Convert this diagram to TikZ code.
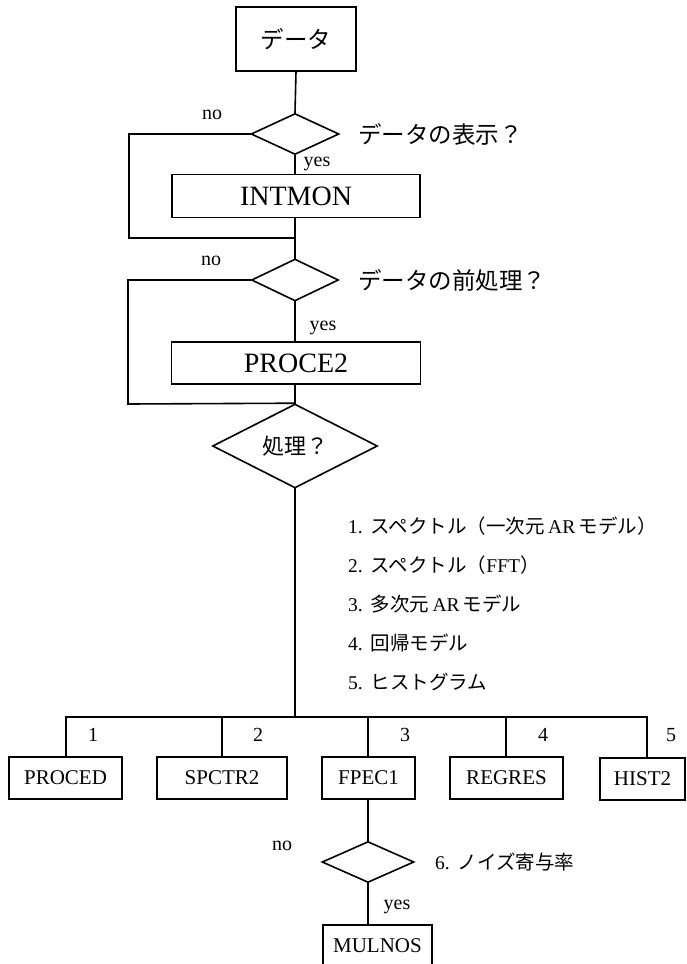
\documentclass[tikz,border=0pt]{standalone}
\usepackage{fontspec}
\setmainfont{Liberation Serif}
\newfontfamily\jp{Noto Sans CJK JP}
\usetikzlibrary{shapes.geometric}
\tikzset{
  ln/.style={line width=1.6pt, line cap=rect},
  boxn/.style={draw, line width=1.6pt, rectangle, inner sep=0pt},
  dia/.style={draw, line width=1.6pt, diamond, inner sep=0pt},
  big/.style={font=\fontsize{28}{32}\selectfont},
  jpbig/.style={font=\jp\fontsize{23.5}{28}\selectfont},
  med/.style={font=\fontsize{21}{25}\selectfont},
  lst/.style={font=\fontsize{19.5}{23}\selectfont, anchor=west, inner sep=0pt},
  sml/.style={font=\fontsize{20}{24}\selectfont, inner sep=0pt},
}
\begin{document}
\begin{tikzpicture}[x=1pt,y=-1pt]
\useasboundingbox (0,0) rectangle (686,964);
\fill[white] (0,0) rectangle (686,964);
% top
\node[boxn, jpbig, minimum width=120pt, minimum height=64pt] (data) at (296,39) {データ};
\node[dia, minimum width=88pt, minimum height=41pt] (d1) at (295,134) {};
\node[jpbig, anchor=west, inner sep=0pt] (q1) at (358,134) {データの表示？};
\node[sml] (no1) at (212,115) {no};
\node[sml] (yes1) at (317,164) {yes};
\node[boxn, big, minimum width=248pt, minimum height=43pt] (intmon) at (296,196) {INTMON};
\coordinate (l1) at (129,238);
\coordinate (j1) at (295,238);
\draw[ln] (data.south) -- (d1.north);
\draw[ln] (d1.south) -- (d1.south |- intmon.north);
\draw[ln] (d1.west) -| (l1) -- (j1);
% second
\node[dia, minimum width=87pt, minimum height=42pt] (d2) at (295,280) {};
\node[jpbig, anchor=west, inner sep=0pt] (q2) at (358,280) {データの前処理？};
\node[sml] (no2) at (211,261) {no};
\node[sml] (yes2) at (323,328) {yes};
\node[boxn, big, minimum width=249pt, minimum height=42pt] (proce) at (296,363) {PROCE2};
\draw[ln] (j1 |- intmon.south) -- (d2.north);
\draw[ln] (d2.south) -- (d2.south |- proce.north);
% third
\node[dia, minimum width=165pt, minimum height=84pt] (d3) at (295,446) {};
\node[font=\jp\fontsize{22}{26}\selectfont] (q3) at (d3.center) {処理？};
\coordinate (l2) at (128,404);
\draw[ln] (d2.west) -| (l2) -- (d3.north);
\draw[ln] (d3.north |- proce.south) -- (d3.north);
% list
\node[lst] (i1) at (348,526) {1.\hspace{8pt}{\jp スペクトル（一次元}\,AR\,{\jp モデル）}};
\node[lst] (i2) at (348,565) {2.\hspace{8pt}{\jp スペクトル（}FFT{\jp ）}};
\node[lst] (i3) at (348,604) {3.\hspace{8pt}{\jp 多次元}\,AR\,{\jp モデル}};
\node[lst] (i4) at (348,643) {4.\hspace{8pt}{\jp 回帰モデル}};
\node[lst] (i5) at (348,682) {5.\hspace{8pt}{\jp ヒストグラム}};
% branch
\coordinate (br) at (295,717);
\coordinate (b1) at (66,717);
\coordinate (b2) at (222,717);
\coordinate (b3) at (368,717);
\coordinate (b4) at (506,717);
\coordinate (b5) at (647,717);
\draw[ln] (d3.south) -- (br);
\draw[ln] (b1) -- (b5);
\node[boxn, med, minimum width=113pt, minimum height=42pt] (p1) at (65.5,778) {PROCED};
\node[boxn, med, minimum width=130pt, minimum height=42pt] (p2) at (222,778) {SPCTR2};
\node[boxn, med, minimum width=93pt, minimum height=42pt] (p3) at (368.5,778) {FPEC1};
\node[boxn, med, minimum width=113pt, minimum height=42pt] (p4) at (506.5,778) {REGRES};
\node[boxn, med, minimum width=85pt, minimum height=42pt] (p5) at (642.5,779) {HIST2};
\draw[ln] (b1) -- (b1 |- p1.north);
\draw[ln] (b2) -- (b2 |- p2.north);
\draw[ln] (b3) -- (b3 |- p3.north);
\draw[ln] (b4) -- (b4 |- p4.north);
\draw[ln] (b5) -- (b5 |- p5.north);
\node[sml] (n1) at (93,735) {1};
\node[sml] (n2) at (258,735) {2};
\node[sml] (n3) at (405,735) {3};
\node[sml] (n4) at (543,735) {4};
\node[sml] (n5) at (671,735) {5};
% noise
\node[dia, minimum width=92pt, minimum height=41pt] (d4) at (368,862) {};
\node[lst] (q4) at (435,862) {6.\hspace{8pt}{\jp ノイズ寄与率}};
\node[sml] (no3) at (282,846) {no};
\node[sml] (yes3) at (397,907) {yes};
\node[boxn, med, minimum width=109pt, minimum height=41pt] (mul) at (377.5,945.5) {MULNOS};
\draw[ln] (b3 |- p3.south) -- (d4.north);
\draw[ln] (d4.south) -- (d4.south |- mul.north);
\end{tikzpicture}
\end{document}
